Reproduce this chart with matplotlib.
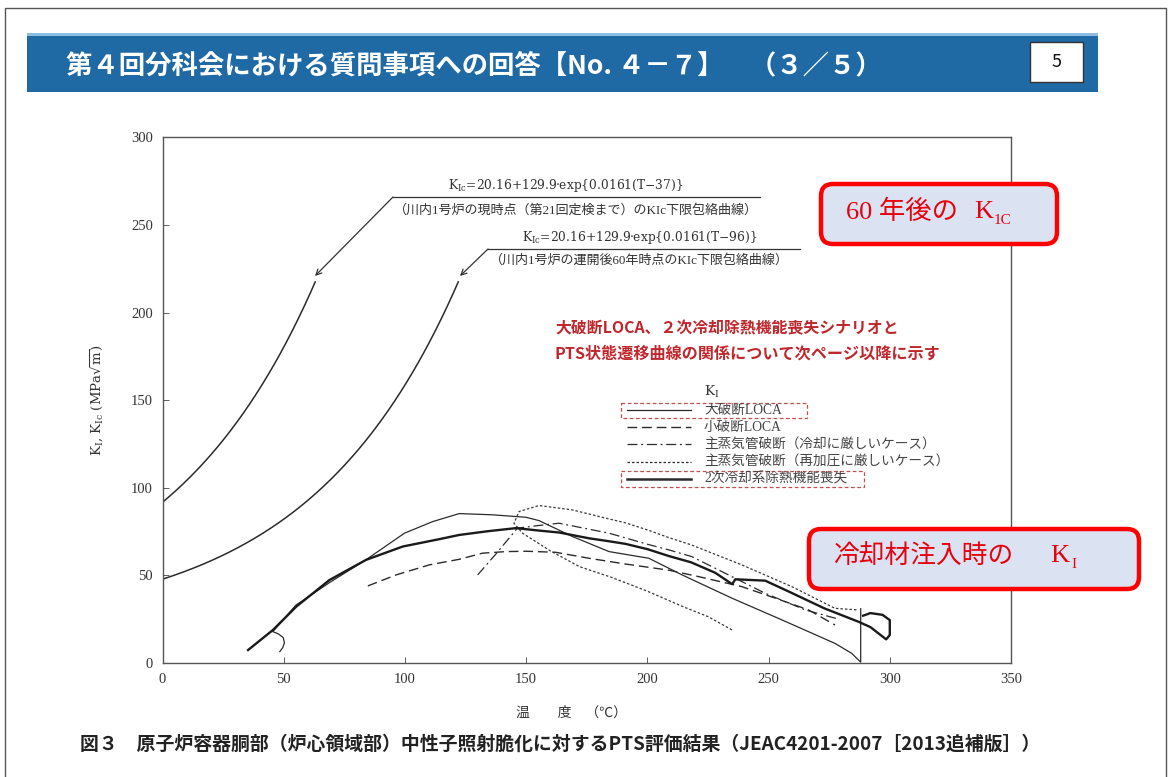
import numpy as np
import matplotlib
matplotlib.use("Agg")
import matplotlib.pyplot as plt
from matplotlib.patches import Rectangle, FancyBboxPatch
from matplotlib.lines import Line2D

JP = ["Noto Sans CJK JP", "DejaVu Sans"]
SERIF_JP = ["Liberation Serif", "Noto Sans CJK JP", "DejaVu Sans"]
plt.rcParams["font.family"] = JP
plt.rcParams["mathtext.fontset"] = "dejavuserif"

# ---------------- data ----------------
# Lower-bound fracture toughness curves K_Ic = A + B*exp(C*(T - Tref))
kic_a, kic_b, kic_c = 20.16, 129.9, 0.0161
kic_ref_now = 37.0      # current state (up to 21st inspection)
kic_ref_60y = 96.0      # 60 years after start of operation
kic_tmax_now = 63.0
kic_tmax_60y = 122.0

# K_I transients (temperature degC, K_I MPa*sqrt(m))
lbloca_t = [288, 288, 284.3, 277.4, 255.5, 234.9, 214.3, 200.6, 184.2, 169.1, 155.3,
            149.9, 136.1, 122.4, 111.4, 99.8, 84, 69, 55, 45.5, 47.8, 49.8, 50.3, 49.6, 48.4]
lbloca_k = [31, 0.5, 5.5, 11.2, 24.6, 37, 50.3, 59.8, 63.6, 72.2, 81.3,
            83.2, 84.6, 85.3, 80.7, 74.1, 59, 46, 33, 17.9, 16.6, 14.5, 11.5, 8.8, 6.5]

sbloca_t = [84.7, 96.4, 110, 122.4, 132, 141.6, 150, 162.2, 175.9, 191, 208.8,
            221.2, 239, 252.8, 266.5, 277.4]
sbloca_k = [44, 50.3, 56, 59.2, 62.7, 63.6, 63.8, 63.2, 59.8, 56.5, 53,
            49.3, 43.6, 37, 30.3, 21.7]

mslb_cool_t = [130, 138, 146.4, 154, 163.6, 184.2, 200, 208.8, 218.4, 234.9, 248.6, 265.1, 279]
mslb_cool_k = [50.3, 63, 77, 78.3, 79.8, 74.1, 67.8, 64.6, 60.7, 49.3, 39.8, 30.3, 25]

mslb_repr_t = [234.9, 225, 215, 200, 185, 172, 160, 148.5, 145, 147.1, 155.3, 169.1,
               182.8, 191, 200, 209, 218, 239, 259.6, 277.4, 287]
mslb_repr_k = [18.9, 26.5, 32, 41, 49, 55, 64, 74.1, 79.8, 86.5, 89.9, 87.4,
               82.7, 80, 76, 71.5, 67.5, 56, 43.6, 31.2, 30.3]

lohs_t = [35.3, 45.6, 55.2, 68.9, 84, 99.1, 114.2, 122.4, 134, 145.8, 155.3, 163.6,
          175.9, 184.2, 191, 200, 209, 218, 228, 235, 236.3, 248.6, 258, 273,
          287, 292, 298.5, 300, 300, 297, 292, 289]
lohs_k = [7.4, 18.9, 32.2, 47.4, 58.9, 66.5, 70.7, 73.1, 75.2, 77, 75.6, 74.5,
          71.2, 69.5, 68, 65, 61, 57.5, 51.5, 45, 47.8, 47, 41, 31.2,
          23.6, 20.5, 13.5, 16, 24.5, 27.5, 28.5, 27]

x_ticks = [0, 50, 100, 150, 200, 250, 300, 350]
y_ticks = [0, 50, 100, 150, 200, 250, 300]

legend_labels = ["大破断LOCA", "小破断LOCA", "主蒸気管破断（冷却に厳しいケース）",
                 "主蒸気管破断（再加圧に厳しいケース）", "2次冷却系除熱機能喪失"]

title_text = "第４回分科会における質問事項への回答【No. ４－７】　（３／５）"
caption_text = "図３　原子炉容器胴部（炉心領域部）中性子照射脆化に対するPTS評価結果（JEAC4201-2007［2013追補版］）"
note_lines = ["大破断LOCA、２次冷却除熱機能喪失シナリオと",
              "PTS状態遷移曲線の関係について次ページ以降に示す"]

# ---------------- figure ----------------
W, H = 1170, 777
fig = plt.figure(figsize=(W / 100, H / 100), dpi=100)
fig.patch.set_facecolor("white")

x0, x1, y0, y1 = 162.5, 1011.0, 137.5, 663.0
ax = fig.add_axes([x0 / W, 1 - y1 / H, (x1 - x0) / W, (y1 - y0) / H])
ax.set_xlim(0, 350)
ax.set_ylim(0, 300)
ax.set_xticks(x_ticks)
ax.set_yticks(y_ticks)
ax.tick_params(direction="in", length=4, width=0.6, colors="#444",
               labelsize=10.5, pad=7)
for lab in ax.get_xticklabels() + ax.get_yticklabels():
    lab.set_family(SERIF_JP)
    lab.set_color("#333")
for s in ax.spines.values():
    s.set_linewidth(1.0)
    s.set_color("#555")

ink = "#2b2b2b"

# K_Ic curves
for ref, tmax in [(kic_ref_now, kic_tmax_now), (kic_ref_60y, kic_tmax_60y)]:
    tt = np.linspace(0, tmax, 200)
    ax.plot(tt, kic_a + kic_b * np.exp(kic_c * (tt - ref)), color=ink, lw=1.1)

ax.plot(lbloca_t, lbloca_k, color=ink, lw=0.9)
ax.plot(sbloca_t, sbloca_k, color=ink, lw=1.0, linestyle=(0, (7, 3.5)))
ax.plot(mslb_cool_t, mslb_cool_k, color=ink, lw=0.9, linestyle=(0, (8, 3, 1.5, 3)))
ax.plot(mslb_repr_t, mslb_repr_k, color="#3a3a3a", lw=0.9, linestyle=(0, (2, 1.6)))
ax.plot(lohs_t, lohs_k, color="#1a1a1a", lw=1.7)

ax.yaxis.set_label_coords((106 - x0) / (x1 - x0), 0.5)
ax.set_ylabel(r"K$_{\rm I}$, K$_{\rm Ic}$ (MPa$\sqrt{\rm m}$)", fontsize=9.5,
              color="#333", family=["DejaVu Serif"])

# leader lines with arrows to the K_Ic curves
def px2data(px, py):
    return ((px - x0) / (x1 - x0) * 350, (y1 - py) / (y1 - y0) * 300)

for tip, knee, end in [((315, 276), (393, 197), (760, 197)),
                       ((460, 276), (488, 249), (800, 249))]:
    tdat, kdat, edat = px2data(*tip), px2data(*knee), px2data(*end)
    ax.annotate("", xy=tdat, xytext=kdat,
                arrowprops=dict(arrowstyle="->", color="#333", lw=0.9,
                                shrinkA=0, shrinkB=0, mutation_scale=10))
    ax.plot([kdat[0], edat[0]], [kdat[1], edat[1]], color="#333", lw=0.9)

# ---------------- page overlay (pixel coordinates) ----------------
ov = fig.add_axes([0, 0, 1, 1], zorder=5)
ov.set_xlim(0, W)
ov.set_ylim(H, 0)
ov.axis("off")
ov.patch.set_alpha(0)

# page frame
ov.plot([5, 5, 1166, 1166], [777, 8, 8, 777], color="#555", lw=1.0)

# title band
ov.add_patch(Rectangle((27, 33), 1071, 59, facecolor="#1f6aa5", edgecolor="none"))
ov.add_patch(Rectangle((27, 33), 1071, 3, facecolor="#8dbde3", edgecolor="none"))
ov.text(66, 66, title_text, color="white", fontsize=19, fontweight="bold",
        ha="left", va="center", family=JP)
ov.add_patch(Rectangle((1030, 42), 53, 40, facecolor="white", edgecolor="#333", lw=1.0))
ov.text(1056.5, 62, "5", fontsize=13, ha="center", va="center", color="#111", family=JP)

# equation labels
ov.text(566, 186, r"K$_{\rm Ic}$=20.16+129.9·exp{0.0161(T−37)}", fontsize=8.8,
        ha="center", va="center", color="#333", family=["DejaVu Serif"])
ov.text(394, 210, "（川内1号炉の現時点（第21回定検まで）のKIc下限包絡曲線）", fontsize=9.4,
        ha="left", va="center", color="#333", family=SERIF_JP)
ov.text(640, 238, r"K$_{\rm Ic}$=20.16+129.9·exp{0.0161(T−96)}", fontsize=8.8,
        ha="center", va="center", color="#333", family=["DejaVu Serif"])
ov.text(490, 260, "（川内1号炉の運開後60年時点のKIc下限包絡曲線）", fontsize=9.4,
        ha="left", va="center", color="#333", family=SERIF_JP)

# red note
ov.text(555, 328, note_lines[0], fontsize=11.4, fontweight="bold", color="#c0272d",
        ha="left", va="center", family=JP)
ov.text(554, 354, note_lines[1], fontsize=11.6, fontweight="bold", color="#c0272d",
        ha="left", va="center", family=JP)

# legend
ov.text(704, 392, r"K$_{\rm I}$", fontsize=9.5, color="#333", ha="left", va="center",
        family=["DejaVu Serif"])
leg_rows = [410, 427, 444, 462, 479]
leg_styles = [dict(lw=0.9), dict(lw=1.0, linestyle=(0, (7, 3.5))),
              dict(lw=0.9, linestyle=(0, (8, 3, 1.5, 3))),
              dict(lw=0.9, linestyle=(0, (2, 1.6))), dict(lw=1.8)]
for yrow, lab, st in zip(leg_rows, legend_labels, leg_styles):
    ov.add_line(Line2D([627, 691], [yrow, yrow], color=ink, **st))
    ov.text(704, yrow, lab, fontsize=9.8, color="#444", ha="left", va="center",
            family=SERIF_JP)
ov.add_patch(Rectangle((621, 403), 186, 15, fill=False, edgecolor="#c0504d",
                       lw=0.9, linestyle=(0, (3, 2))))
ov.add_patch(Rectangle((621, 471), 243, 16, fill=False, edgecolor="#c0504d",
                       lw=0.9, linestyle=(0, (3, 2))))

# axis title and caption
ov.text(572, 713, "温　　度　（℃）", fontsize=10, color="#333", ha="center",
        va="center", family=SERIF_JP)
ov.text(80, 744, caption_text, fontsize=13.6, fontweight="bold", color="#222",
        ha="left", va="center", family=JP)

# red callout boxes
def callout(x, y, w, h):
    ov.add_patch(FancyBboxPatch((x, y), w, h,
                                boxstyle="round,pad=0,rounding_size=12",
                                facecolor="#dbe3f3", edgecolor="#ff0000", lw=3.2))

callout(821, 184, 236, 60)
ov.text(846, 212, "60 年後の", fontsize=19, color="#e8000b", ha="left",
        va="center", family=SERIF_JP)
ov.text(974, 212, "K", fontsize=19, color="#e8000b", ha="left", va="center",
        family=["Liberation Serif"])
ov.text(994, 220, "1C", fontsize=11, color="#e8000b", ha="left", va="center",
        family=["Liberation Serif"])

callout(809, 529, 330, 60)
ov.text(833, 556, "冷却材注入時の", fontsize=18.5, color="#e8000b", ha="left",
        va="center", family=SERIF_JP)
ov.text(1050, 556, "K", fontsize=19, color="#e8000b", ha="left", va="center",
        family=["Liberation Serif"])
ov.text(1071, 564, "I", fontsize=11, color="#e8000b", ha="left", va="center",
        family=["Liberation Serif"])

fig.savefig("out.png", dpi=100)
